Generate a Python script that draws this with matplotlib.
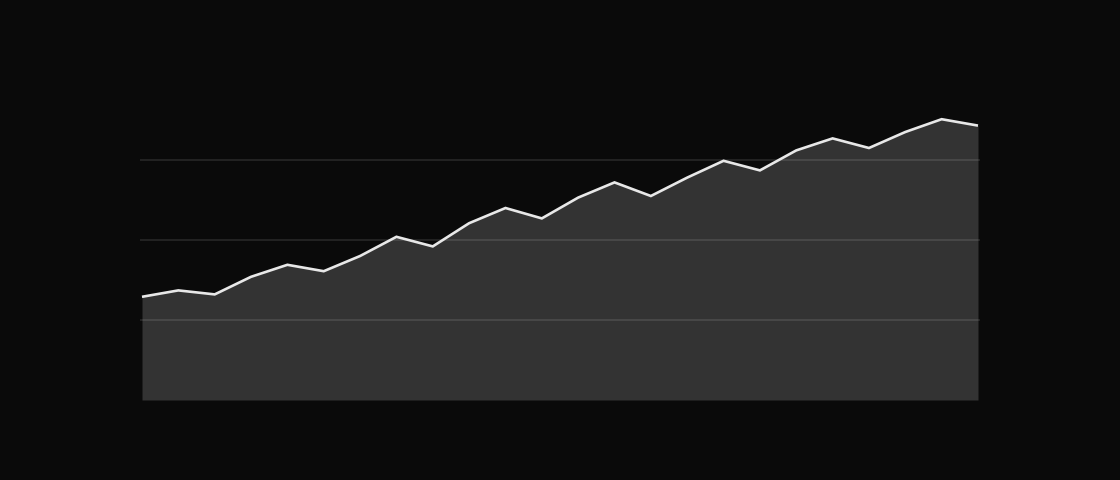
import matplotlib
matplotlib.use("Agg")
import matplotlib.pyplot as plt

# Data
x_index = list(range(24))
values = [129, 137, 132, 154, 169, 161, 180, 204, 192, 221, 240, 227,
          253, 272, 255, 278, 299, 287, 312, 327, 315, 335, 351, 343]
grid_ticks = [100, 200, 300]

BG = "#0a0a0a"
FILL = "#333333"
LINE = "#e8e8e8"

fig = plt.figure(figsize=(11.2, 4.8), dpi=100, facecolor=BG)
ax = fig.add_axes([140 / 1120, 80 / 480, 840 / 1120, 300 / 480])
ax.set_facecolor(BG)

ax.fill_between(x_index, values, 0, color=FILL, linewidth=0, zorder=1)
ax.plot(x_index, values, color=LINE, linewidth=1.9, zorder=3,
        solid_joinstyle="miter", solid_capstyle="butt")

ax.set_xlim(-0.055, 23.055)
ax.set_ylim(0, 375)
ax.set_yticks(grid_ticks)
ax.set_xticks([])
ax.set_axisbelow(False)
ax.grid(axis="y", color="white", alpha=0.1, linewidth=1.5, zorder=2)
ax.tick_params(left=False, labelleft=False, bottom=False, labelbottom=False)
for s in ax.spines.values():
    s.set_visible(False)

fig.savefig("out.png", dpi=100, facecolor=BG)
